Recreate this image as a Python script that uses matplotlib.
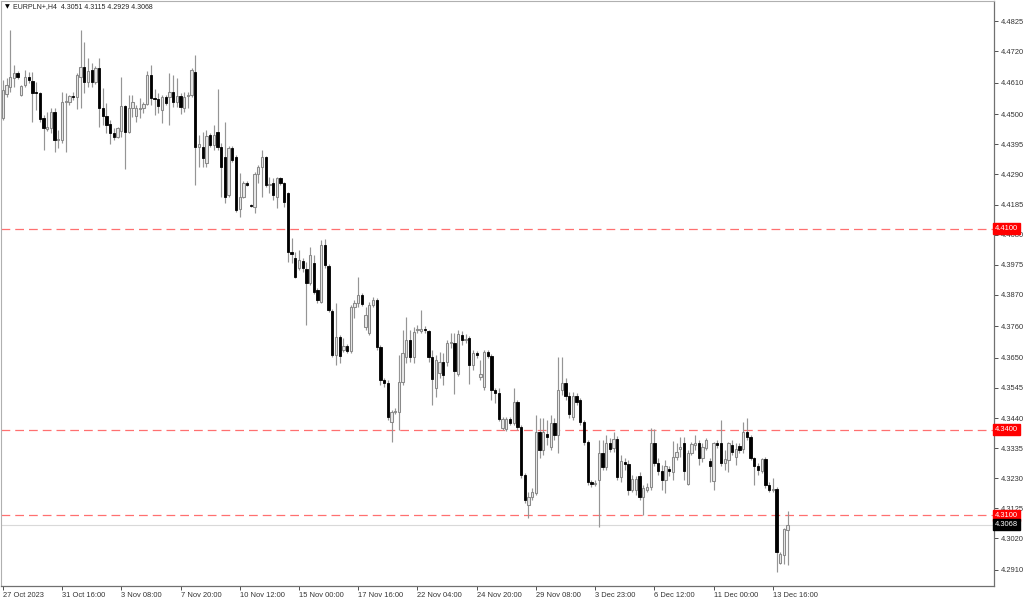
import numpy as np
import matplotlib.pyplot as plt

plt.rcParams['font.family'] = ['Liberation Sans', 'DejaVu Sans']

symbol = "EURPLN+,H4"

# H4 bars, oldest first
opens = [
    4.4486, 4.4570, 4.4595, 4.4626, 4.4644, 4.4567, 4.4602, 4.4630, 4.4616, 4.4577,
    4.4574, 4.4486, 4.4448, 4.4452, 4.4507, 4.4410, 4.4410, 4.4542, 4.4542, 4.4563,
    4.4560, 4.4630, 4.4665, 4.4612, 4.4654, 4.4612, 4.4661, 4.4521, 4.4493, 4.4466,
    4.4434, 4.4420, 4.4441, 4.4528, 4.4438, 4.4521, 4.4493, 4.4518, 4.4521, 4.4535,
    4.4637, 4.4556, 4.4553, 4.4514, 4.4560, 4.4560, 4.4577, 4.4542, 4.4563, 4.4521,
    4.4563, 4.4567, 4.4647, 4.4385, 4.4385, 4.4329, 4.4427, 4.4392, 4.4438, 4.4385,
    4.4350, 4.4218, 4.4382, 4.4350, 4.4169, 4.4211, 4.4260, 4.4183, 4.4176, 4.4291,
    4.4315, 4.4350, 4.4253, 4.4260, 4.4211, 4.4277, 4.4260, 4.4225, 4.4019, 4.3998,
    4.3963, 4.3988, 4.3960, 4.3911, 4.3981, 4.3887, 4.3845, 4.4043, 4.3970, 4.3813,
    4.3660, 4.3723, 4.3677, 4.3691, 4.3674, 4.3827, 4.3841, 4.3869, 4.3757, 4.3736,
    4.3834, 4.3852, 4.3688, 4.3573, 4.3562, 4.3426, 4.3461, 4.3461, 4.3566, 4.3653,
    4.3712, 4.3653, 4.3747, 4.3743, 4.3750, 4.3743, 4.3653, 4.3545, 4.3597, 4.3635,
    4.3635, 4.3701, 4.3701, 4.3594, 4.3730, 4.3712, 4.3719, 4.3625, 4.3667, 4.3583,
    4.3548, 4.3670, 4.3656, 4.3538, 4.3527, 4.3405, 4.3401, 4.3436, 4.3422, 4.3496,
    4.3408, 4.3241, 4.3137, 4.3165, 4.3179, 4.3391, 4.3328, 4.3384, 4.3339, 4.3422,
    4.3381, 4.3538, 4.3562, 4.3517, 4.3443, 4.3517, 4.3503, 4.3426, 4.3356, 4.3217,
    4.3210, 4.3224, 4.3318, 4.3269, 4.3353, 4.3335, 4.3367, 4.3234, 4.3287, 4.3280,
    4.3189, 4.3189, 4.3238, 4.3165, 4.3189, 4.3199, 4.3353, 4.3283, 4.3255, 4.3224,
    4.3262, 4.3252, 4.3304, 4.3332, 4.3353, 4.3210, 4.3318, 4.3346, 4.3353, 4.3301,
    4.3335, 4.3290, 4.3220, 4.3353, 4.3353, 4.3283, 4.3294, 4.3346, 4.3304, 4.3342,
    4.3332, 4.3391, 4.3374, 4.3301, 4.3273, 4.3255, 4.3297, 4.3206, 4.3189, 4.3192,
    4.2934, 4.2962, 4.3051,
]
highs = [
    4.4619, 4.4626, 4.4793, 4.4672, 4.4650, 4.4602, 4.4654, 4.4647, 4.4647, 4.4612,
    4.4577, 4.4497, 4.4507, 4.4521, 4.4521, 4.4445, 4.4577, 4.4574, 4.4567, 4.4577,
    4.4644, 4.4793, 4.4751, 4.4696, 4.4679, 4.4668, 4.4696, 4.4591, 4.4539, 4.4480,
    4.4452, 4.4455, 4.4630, 4.4532, 4.4567, 4.4567, 4.4532, 4.4556, 4.4542, 4.4650,
    4.4672, 4.4588, 4.4574, 4.4567, 4.4567, 4.4644, 4.4637, 4.4626, 4.4574, 4.4577,
    4.4577, 4.4661, 4.4706, 4.4427, 4.4438, 4.4445, 4.4434, 4.4462, 4.4588, 4.4399,
    4.4473, 4.4389, 4.4389, 4.4357, 4.4294, 4.4267, 4.4267, 4.4187, 4.4298, 4.4322,
    4.4375, 4.4354, 4.4281, 4.4277, 4.4281, 4.4281, 4.4263, 4.4228, 4.4068, 4.4019,
    4.4026, 4.3998, 4.3984, 4.4036, 4.4009, 4.3894, 4.4061, 4.4064, 4.3977, 4.3820,
    4.3841, 4.3730, 4.3719, 4.3698, 4.3834, 4.3852, 4.3932, 4.3876, 4.3827, 4.3845,
    4.3862, 4.3859, 4.3695, 4.3580, 4.3573, 4.3468, 4.3475, 4.3660, 4.3747, 4.3792,
    4.3747, 4.3757, 4.3764, 4.3817, 4.3761, 4.3747, 4.3677, 4.3660, 4.3670, 4.3667,
    4.3712, 4.3736, 4.3736, 4.3747, 4.3743, 4.3733, 4.3726, 4.3677, 4.3674, 4.3642,
    4.3677, 4.3677, 4.3663, 4.3545, 4.3545, 4.3443, 4.3443, 4.3443, 4.3545, 4.3503,
    4.3415, 4.3248, 4.3182, 4.3196, 4.3451, 4.3440, 4.3440, 4.3433, 4.3451, 4.3440,
    4.3653, 4.3653, 4.3580, 4.3531, 4.3531, 4.3527, 4.3510, 4.3433, 4.3363, 4.3224,
    4.3224, 4.3363, 4.3363, 4.3381, 4.3370, 4.3391, 4.3377, 4.3311, 4.3301, 4.3294,
    4.3241, 4.3238, 4.3252, 4.3206, 4.3213, 4.3405, 4.3401, 4.3301, 4.3276, 4.3294,
    4.3273, 4.3360, 4.3353, 4.3374, 4.3374, 4.3328, 4.3356, 4.3381, 4.3363, 4.3353,
    4.3370, 4.3301, 4.3356, 4.3363, 4.3433, 4.3328, 4.3356, 4.3363, 4.3353, 4.3353,
    4.3426, 4.3440, 4.3381, 4.3304, 4.3283, 4.3301, 4.3304, 4.3217, 4.3231, 4.3199,
    4.2973, 4.3056, 4.3115,
]
lows = [
    4.4480, 4.4560, 4.4577, 4.4595, 4.4623, 4.4563, 4.4595, 4.4609, 4.4473, 4.4514,
    4.4473, 4.4375, 4.4441, 4.4434, 4.4368, 4.4382, 4.4399, 4.4368, 4.4532, 4.4549,
    4.4518, 4.4521, 4.4574, 4.4595, 4.4595, 4.4605, 4.4455, 4.4462, 4.4434, 4.4396,
    4.4410, 4.4417, 4.4420, 4.4308, 4.4434, 4.4490, 4.4473, 4.4486, 4.4504, 4.4532,
    4.4532, 4.4497, 4.4504, 4.4469, 4.4532, 4.4462, 4.4525, 4.4525, 4.4500, 4.4507,
    4.4521, 4.4560, 4.4253, 4.4315, 4.4315, 4.4315, 4.4385, 4.4375, 4.4375, 4.4211,
    4.4190, 4.4211, 4.4333, 4.4159, 4.4141, 4.4207, 4.4249, 4.4176, 4.4155, 4.4260,
    4.4211, 4.4246, 4.4225, 4.4200, 4.4173, 4.4253, 4.4176, 4.3984, 4.3981, 4.3928,
    4.3956, 4.3949, 4.3765, 4.3904, 4.3873, 4.3841, 4.3841, 4.3963, 4.3810, 4.3653,
    4.3625, 4.3632, 4.3670, 4.3667, 4.3667, 4.3789, 4.3827, 4.3831, 4.3747, 4.3730,
    4.3827, 4.3677, 4.3555, 4.3548, 4.3433, 4.3356, 4.3454, 4.3398, 4.3555, 4.3632,
    4.3635, 4.3632, 4.3736, 4.3736, 4.3736, 4.3635, 4.3485, 4.3514, 4.3580, 4.3555,
    4.3621, 4.3684, 4.3524, 4.3587, 4.3695, 4.3702, 4.3559, 4.3607, 4.3649, 4.3573,
    4.3538, 4.3649, 4.3503, 4.3492, 4.3429, 4.3398, 4.3394, 4.3415, 4.3415, 4.3398,
    4.3231, 4.3144, 4.3091, 4.3154, 4.3172, 4.3301, 4.3311, 4.3346, 4.3328, 4.3363,
    4.3318, 4.3520, 4.3503, 4.3440, 4.3433, 4.3485, 4.3415, 4.3346, 4.3206, 4.3199,
    4.3203, 4.3060, 4.3259, 4.3259, 4.3321, 4.3321, 4.3224, 4.3217, 4.3259, 4.3172,
    4.3182, 4.3172, 4.3154, 4.3102, 4.3182, 4.3189, 4.3273, 4.3241, 4.3189, 4.3178,
    4.3238, 4.3224, 4.3294, 4.3304, 4.3224, 4.3206, 4.3311, 4.3328, 4.3276, 4.3287,
    4.3328, 4.3217, 4.3189, 4.3335, 4.3273, 4.3259, 4.3252, 4.3311, 4.3276, 4.3318,
    4.3318, 4.3363, 4.3294, 4.3206, 4.3241, 4.3248, 4.3196, 4.3182, 4.3182, 4.2903,
    4.2931, 4.2931, 4.2929,
]
closes = [
    4.4584, 4.4602, 4.4630, 4.4644, 4.4630, 4.4598, 4.4630, 4.4619, 4.4574, 4.4574,
    4.4483, 4.4452, 4.4455, 4.4507, 4.4410, 4.4413, 4.4542, 4.4545, 4.4563, 4.4560,
    4.4637, 4.4665, 4.4612, 4.4650, 4.4612, 4.4661, 4.4521, 4.4493, 4.4462, 4.4434,
    4.4420, 4.4452, 4.4528, 4.4438, 4.4521, 4.4542, 4.4521, 4.4521, 4.4535, 4.4637,
    4.4556, 4.4553, 4.4528, 4.4560, 4.4539, 4.4577, 4.4542, 4.4563, 4.4525, 4.4560,
    4.4567, 4.4654, 4.4385, 4.4396, 4.4347, 4.4424, 4.4392, 4.4427, 4.4385, 4.4315,
    4.4211, 4.4382, 4.4340, 4.4166, 4.4211, 4.4260, 4.4253, 4.4180, 4.4291, 4.4315,
    4.4350, 4.4253, 4.4256, 4.4218, 4.4277, 4.4260, 4.4193, 4.4019, 4.4012, 4.3932,
    4.3991, 4.3963, 4.3911, 4.4009, 4.3880, 4.3852, 4.4043, 4.3974, 4.3817, 4.3660,
    4.3723, 4.3656, 4.3691, 4.3674, 4.3827, 4.3841, 4.3869, 4.3838, 4.3799, 4.3834,
    4.3852, 4.3688, 4.3573, 4.3562, 4.3443, 4.3461, 4.3465, 4.3566, 4.3667, 4.3712,
    4.3653, 4.3740, 4.3750, 4.3750, 4.3747, 4.3653, 4.3576, 4.3642, 4.3635, 4.3590,
    4.3701, 4.3705, 4.3604, 4.3733, 4.3712, 4.3716, 4.3625, 4.3667, 4.3660, 4.3594,
    4.3670, 4.3656, 4.3538, 4.3527, 4.3436, 4.3436, 4.3436, 4.3422, 4.3496, 4.3408,
    4.3241, 4.3154, 4.3165, 4.3182, 4.3391, 4.3328, 4.3391, 4.3374, 4.3422, 4.3381,
    4.3538, 4.3562, 4.3517, 4.3454, 4.3517, 4.3496, 4.3426, 4.3356, 4.3217, 4.3210,
    4.3213, 4.3318, 4.3269, 4.3353, 4.3332, 4.3367, 4.3234, 4.3290, 4.3280, 4.3189,
    4.3227, 4.3227, 4.3165, 4.3196, 4.3199, 4.3353, 4.3283, 4.3255, 4.3224, 4.3273,
    4.3255, 4.3304, 4.3321, 4.3339, 4.3255, 4.3318, 4.3349, 4.3353, 4.3301, 4.3339,
    4.3363, 4.3273, 4.3353, 4.3346, 4.3283, 4.3297, 4.3353, 4.3321, 4.3332, 4.3328,
    4.3391, 4.3374, 4.3301, 4.3273, 4.3259, 4.3297, 4.3206, 4.3189, 4.3192, 4.2973,
    4.2966, 4.3053, 4.3068,
]

# time axis labels (every 16th bar)
tick_bars = [0, 16, 32, 48, 64, 80, 96, 112, 128, 144, 160, 176, 192, 208]
tick_dates = ["27 Oct 2023", "31 Oct 16:00", "3 Nov 08:00", "7 Nov 20:00",
              "10 Nov 12:00", "15 Nov 00:00", "17 Nov 16:00", "22 Nov 04:00",
              "24 Nov 20:00", "29 Nov 08:00", "3 Dec 23:00", "6 Dec 12:00",
              "11 Dec 00:00", "13 Dec 16:00"]

price_ticks = [4.4825, 4.4720, 4.4610, 4.4500, 4.4395, 4.4290, 4.4185, 4.4080,
               4.3975, 4.3870, 4.3760, 4.3650, 4.3545, 4.3440, 4.3335, 4.3230,
               4.3125, 4.3020, 4.2910]

levels = [4.4100, 4.3400, 4.3100]
bid = closes[-1]

o = np.array(opens)
h = np.array(highs)
l = np.array(lows)
c = np.array(closes)
x = np.arange(len(o))
up = c >= o

fs = 5.4

fig = plt.figure(figsize=(10.24, 6), dpi=100)
ax = fig.add_axes([0.0008, 14 / 600, 993 / 1024, 585 / 600])

# wicks
ax.vlines(x, l, h, color="#959595", linewidth=0.85, zorder=2)

# bodies
body = np.maximum(np.abs(c - o), 0.00012)
bottom = np.minimum(o, c)
ax.bar(x[up], body[up], bottom=bottom[up], width=0.62, color="#e8e8e8",
       edgecolor="#8a8a8a", linewidth=0.75, zorder=3)
ax.bar(x[~up], body[~up], bottom=bottom[~up], width=0.62, color="black",
       edgecolor="black", linewidth=0.6, zorder=3)

# horizontal levels
for lv in levels:
    ax.axhline(lv, color="#ff7070", linewidth=0.9, dashes=(7, 4), zorder=1)
    ax.text(1.0015, lv, f"{lv:.4f}", transform=ax.get_yaxis_transform(),
            ha="left", va="center", fontsize=fs, color="white", clip_on=False,
            zorder=10,
            bbox=dict(boxstyle="square,pad=0.25", fc="#ff0000", ec="#ff0000"))
ax.axhline(bid, color="#d9d9d9", linewidth=0.8, zorder=1)
ax.text(1.0015, bid, f"{bid:.4f}", transform=ax.get_yaxis_transform(),
        ha="left", va="center", fontsize=fs, color="white", clip_on=False,
        zorder=10,
        bbox=dict(boxstyle="square,pad=0.25", fc="black", ec="black"))

ax.set_xlim(-0.54, 267.7)
ax.set_ylim(4.2854, 4.4895)

ax.yaxis.tick_right()
ax.set_yticks(price_ticks)
ax.set_yticklabels([f"{p:.4f}" for p in price_ticks])
ax.tick_params(axis="y", direction="out", length=3, pad=2, labelsize=fs,
               colors="#333333", width=0.6)
ax.set_xticks(tick_bars)
ax.set_xticklabels(tick_dates, ha="left")
ax.tick_params(axis="x", direction="out", length=3, pad=1.5, labelsize=fs,
               colors="#333333", width=0.6)

for side in ["left", "top"]:
    ax.spines[side].set_color("#b0b0b0")
    ax.spines[side].set_linewidth(0.8)
for side in ["right", "bottom"]:
    ax.spines[side].set_color("#707070")
    ax.spines[side].set_linewidth(0.9)

header = f"{symbol}  {opens[-1]:.4f} {highs[-1]:.4f} {lows[-1]:.4f} {closes[-1]:.4f}"
ax.text(4 / 993, 1 - 6 / 585, "\u25bc", transform=ax.transAxes, fontsize=4.5,
        va="center", ha="left", color="black", family="DejaVu Sans")
ax.text(12 / 993, 1 - 6 / 585, header, transform=ax.transAxes, fontsize=5.0,
        va="center", ha="left", color="#222222")

fig.savefig("out.png", dpi=100)
